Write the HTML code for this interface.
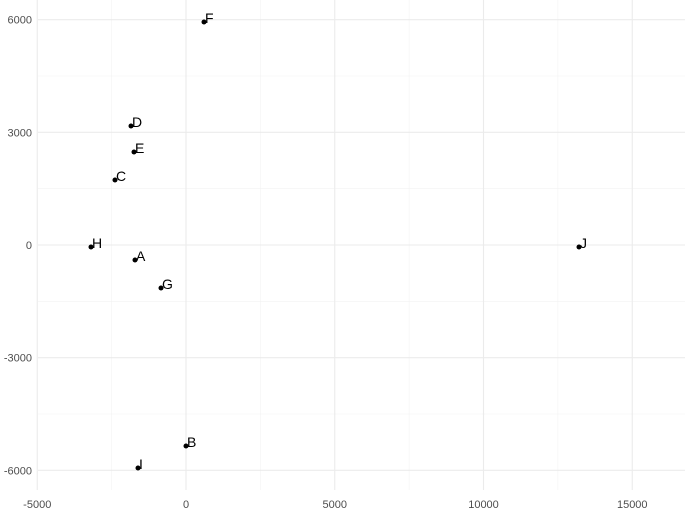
<!DOCTYPE html>
<html><head><meta charset="utf-8"><style>
body{margin:0;background:#fff;font-family:"Liberation Sans",sans-serif}
svg{display:block}
</style></head><body>
<svg id="c" width="685" height="515"></svg>
<script>
const labels=["A","B","C","D","E","F","G","H","I","J"];
const xs=[-1714,0,-2387,-1849,-1748,605,-840,-3193,-1613,13210];
const ys=[-399,-5352,1731,3169,2476,5937,-1145,-53,-5937,-53];
const xTicks=[-5000,0,5000,10000,15000];
const yTicks=[-6000,-3000,0,3000,6000];
const xMinor=[-2500,2500,7500,12500];
const yMinor=[-4500,-1500,1500,4500];
const NS="http://www.w3.org/2000/svg";
const svg=document.getElementById('c');
const X=v=>186+v*148.75/5000;
const Y=v=>245-v*112.67/3000;
const L=38,R=685,T=0,B=490;
function el(t,a){const e=document.createElementNS(NS,t);for(const k in a)e.setAttribute(k,a[k]);svg.appendChild(e);return e;}
xMinor.forEach(v=>{const e=el('line',{x1:X(v),x2:X(v),y1:T,y2:B,stroke:'#f2f2f2','stroke-width':0.6});

});
yMinor.forEach(v=>{const e=el('line',{x1:L,x2:R,y1:Y(v),y2:Y(v),stroke:'#f2f2f2','stroke-width':0.6});

});
xTicks.forEach(v=>{const e=el('line',{x1:X(v),x2:X(v),y1:T,y2:B,stroke:'#ebebeb','stroke-width':1.1});


const t=el('text',{x:X(v),y:508,'text-anchor':'middle','font-size':11,fill:'#4d4d4d'});t.textContent=v;

});
yTicks.forEach(v=>{const e=el('line',{x1:L,x2:R,y1:Y(v),y2:Y(v),stroke:'#ebebeb','stroke-width':1.1});


const t=el('text',{x:32,y:Y(v)+4,'text-anchor':'end','font-size':11,fill:'#4d4d4d'});t.textContent=v;

});
labels.forEach((lab,i)=>{const c=el('circle',{cx:X(xs[i]),cy:Y(ys[i]),r:2.5,fill:'#000'});


const t=el('text',{x:X(xs[i])+1,y:Y(ys[i])+1,'font-size':14,fill:'#000'});t.textContent=lab;

});
</script>
</body></html>
